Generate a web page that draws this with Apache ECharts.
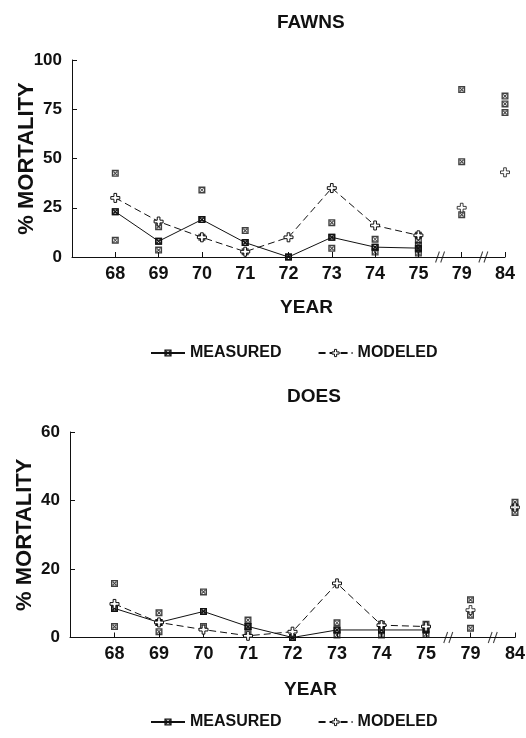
<!DOCTYPE html>
<html>
<head>
<meta charset="utf-8">
<script src="https://cdn.jsdelivr.net/npm/echarts@6/dist/echarts.min.js"></script>
<style>
  html, body { margin: 0; padding: 0; background: #fff; }
  #chart { width: 526px; height: 738px; }
</style>
</head>
<body>
<div id="chart"></div>
<script>
// years on the x axis (index positions, broken axis after 75)
const years = ["68", "69", "70", "71", "72", "73", "74", "75", "79", "84"];

// FAWNS
const fawnMeasured = [23, 8, 19, 7.3, 0, 10, 5, 4.5];
const fawnModeled = [30, 18, 10, 2.7, 10, 35, 16, 11, 25, 43];
const fawnSamples = [
  [42.5, 23, 8.5], [15.4, 8, 3.5], [34, 19, 10], [13.4, 7.3, 2.7], [0],
  [17.4, 10, 4.4], [9, 5, 2.5], [11, 8.5, 6, 4, 2], [85, 48.4, 21.5], [81.7, 77.7, 73.3]
];

// DOES
const doeMeasured = [8.5, 4.4, 7.6, 3.2, 0, 2.2, 2.2, 2.2];
const doeModeled = [9.8, 4.4, 2.3, 0.5, 1.7, 15.8, 3.6, 3.2, 8, 38];
const doeSamples = [
  [15.8, 8.5, 3.2], [7.2, 4.4, 1.7], [13.3, 7.6, 3.2], [5.1, 3.2, 1.7], [0],
  [4.3, 2.2, 0.7], [3.9, 2.2, 0.7], [3.9, 2.4, 0.9], [11, 6.5, 2.7], [39.5, 38, 36.5]
];

const breakPos = [7.5, 8.5];

const ink = "#111";
const font = "Liberation Sans";
// square with an X inside, and an open cross
const boxSym = "path://M0,0H10V10H0Z M2,2V8H8V2Z M2,3L3,2L8,7L7,8Z M7,2L8,3L3,8L2,7Z";
const crossSym = "path://M3.5,0H6.5V3.5H10V6.5H6.5V10H3.5V6.5H0V3.5H3.5Z";
const slashSym = "path://M0,10L3,0 M4,10L7,0";
const openCross = { color: "#fff", borderColor: ink, borderWidth: 1 };

const chart = echarts.init(document.getElementById("chart"));

function xAxisFor(gi) {
  return {
    type: "value", gridIndex: gi, min: -1, max: 9, interval: 1,
    name: "YEAR", nameLocation: "middle", nameGap: gi === 0 ? 41 : 43,
    nameMoveOverlap: false,
    nameTextStyle: { color: ink, fontFamily: font, fontWeight: "bold", fontSize: 19, padding: [0, 0, 0, 36] },
    axisLine: { onZero: false, lineStyle: { color: ink, width: 1 } },
    axisTick: { inside: true, length: 5, lineStyle: { color: ink } },
    splitLine: { show: false },
    axisLabel: {
      color: ink, fontFamily: font, fontWeight: "bold", fontSize: 18, margin: 8,
      formatter: (v) => (v >= 0 && v < years.length ? years[v] : "")
    }
  };
}

function yAxisFor(gi, max, step) {
  return {
    type: "value", gridIndex: gi, min: 0, max: max, interval: step,
    name: "% MORTALITY", nameLocation: "middle", nameGap: 34,
    nameMoveOverlap: false,
    nameTextStyle: { color: ink, fontFamily: font, fontWeight: "bold", fontSize: 22 },
    axisLine: { show: true, onZero: false, lineStyle: { color: ink, width: 1 } },
    axisTick: { show: true, inside: true, length: 5, lineStyle: { color: ink } },
    splitLine: { show: false },
    axisLabel: { color: ink, fontFamily: font, fontWeight: "bold", fontSize: 17, margin: 10 }
  };
}

function seriesFor(gi, measured, modeled, samples) {
  const pts = [];
  samples.forEach((list, i) => list.forEach((v) => pts.push([i, v])));
  const line = (arr) => arr.slice(0, 8).map((v, i) => [i, v]);
  return [
    {
      name: "MEASURED", type: "line", xAxisIndex: gi, yAxisIndex: gi,
      data: line(measured), symbol: boxSym, symbolSize: 7,
      lineStyle: { color: ink, width: 1 }, itemStyle: { color: ink }, z: 3
    },
    {
      name: "MODELED", type: "line", xAxisIndex: gi, yAxisIndex: gi,
      data: line(modeled), symbol: crossSym, symbolSize: 9,
      lineStyle: { color: ink, width: 1, type: [7, 4] },
      itemStyle: openCross, z: 4
    },
    {
      name: "measured-pts", type: "scatter", xAxisIndex: gi, yAxisIndex: gi,
      data: pts, symbol: boxSym, symbolSize: 7, itemStyle: { color: ink }, z: 2
    },
    {
      name: "modeled-pts", type: "scatter", xAxisIndex: gi, yAxisIndex: gi,
      data: modeled.slice(8).map((v, i) => [i + 8, v]), symbol: crossSym, symbolSize: 9,
      itemStyle: openCross, z: 4
    },
    {
      name: "break", type: "scatter", xAxisIndex: gi, yAxisIndex: gi, silent: true,
      data: breakPos.map((x) => [x, 0]), symbol: slashSym, symbolSize: [9, 11],
      itemStyle: { color: "transparent", borderColor: ink, borderWidth: 1.2 }, z: 5
    }
  ];
}

const legendStyle = {
  data: [
    { name: "MEASURED", itemStyle: { color: ink } },
    { name: "MODELED", itemStyle: openCross }
  ],
  left: 145, itemWidth: 34, itemHeight: 9, itemGap: 36,
  selectedMode: false,
  textStyle: { color: ink, fontFamily: font, fontWeight: "bold", fontSize: 16 }
};

chart.setOption({
  animation: false,
  backgroundColor: "#fff",
  title: [
    { text: "FAWNS", left: 272, top: 8, textStyle: { color: ink, fontFamily: font, fontWeight: "bold", fontSize: 19 } },
    { text: "DOES", left: 282, top: 382, textStyle: { color: ink, fontFamily: font, fontWeight: "bold", fontSize: 19 } }
  ],
  legend: [
    Object.assign({ top: 340 }, legendStyle),
    Object.assign({ top: 709 }, legendStyle)
  ],
  grid: [
    { left: 72, right: 21, top: 60, height: 197, outerBoundsMode: "none", containLabel: false },
    { left: 70, right: 11, top: 432, height: 205.5, outerBoundsMode: "none", containLabel: false }
  ],
  xAxis: [xAxisFor(0), xAxisFor(1)],
  yAxis: [yAxisFor(0, 100, 25), yAxisFor(1, 60, 20)],
  series: [].concat(
    seriesFor(0, fawnMeasured, fawnModeled, fawnSamples),
    seriesFor(1, doeMeasured, doeModeled, doeSamples)
  )
});
</script>
</body>
</html>
